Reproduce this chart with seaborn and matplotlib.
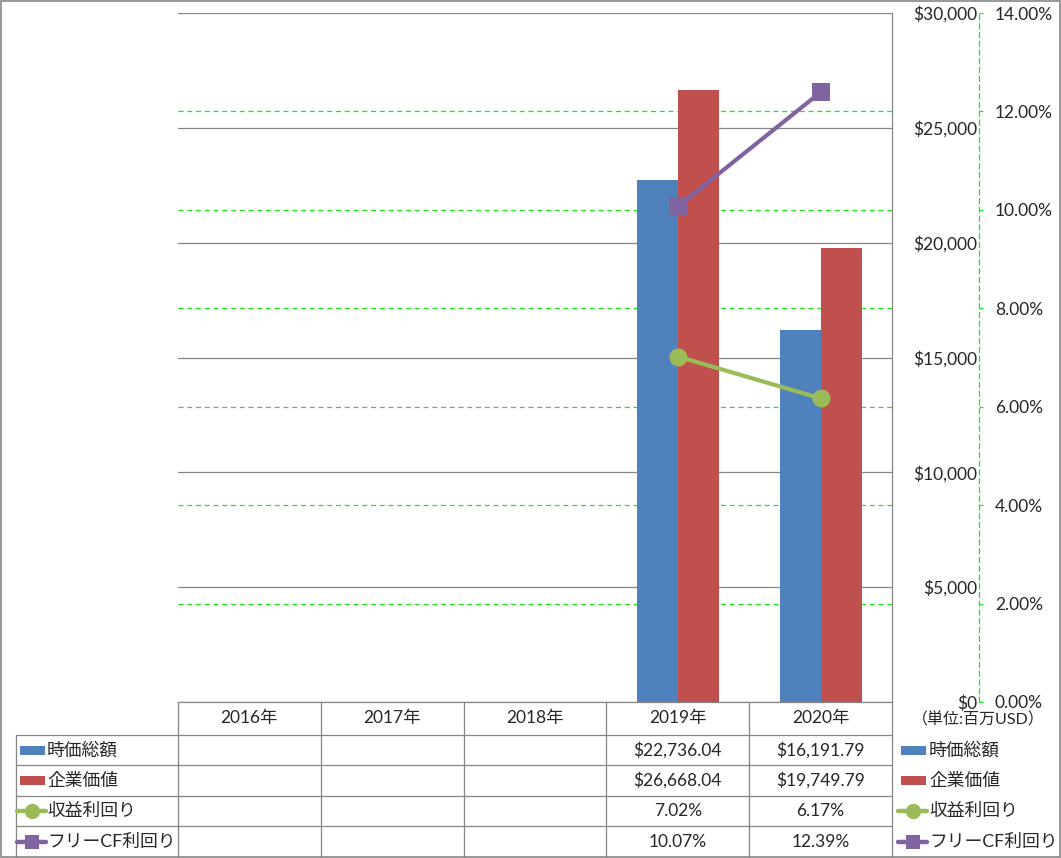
import matplotlib
matplotlib.use("Agg")
import matplotlib.pyplot as plt
import matplotlib.transforms as mtrans
from matplotlib.lines import Line2D
from matplotlib.patches import Rectangle
import seaborn as sns
import pandas as pd
import numpy as np

# ---------------- data ----------------
years = ["2016年", "2017年", "2018年", "2019年", "2020年"]
data_years = ["2019年", "2020年"]
market_cap = [22736.04, 16191.79]      # 時価総額 (百万USD)
enterprise_value = [26668.04, 19749.79]  # 企業価値 (百万USD)
earnings_yield = [7.02, 6.17]          # 収益利回り (%)
fcf_yield = [10.07, 12.39]             # フリーCF利回り (%)
series_names = ["時価総額", "企業価値", "収益利回り", "フリーCF利回り"]
left_ticks = [0, 5000, 10000, 15000, 20000, 25000, 30000]
right_ticks = [0, 2, 4, 6, 8, 10, 12, 14]
unit_label = "（単位:百万USD）"

BLUE, RED, GREEN, PURPLE = "#4F81BD", "#C0504D", "#9BBB59", "#8064A2"
GRID_GREEN = "#1EE61E"
GRAY = "#868686"

sns.set_style("white")
plt.rcParams["font.family"] = ["Lato", "Noto Sans CJK JP", "DejaVu Sans"]

W, H = 1061, 858
fig = plt.figure(figsize=(W / 100, H / 100), dpi=100)


def fx(x):
    return x / W


def fy(y):
    return 1 - y / H


PL, PR, PT, PB = 178, 892, 13, 702
ax = fig.add_axes([fx(PL), fy(PB), (PR - PL) / W, (PB - PT) / H])

bar_df = pd.DataFrame({
    "year": data_years * 2,
    "value": market_cap + enterprise_value,
    "series": [series_names[0]] * 2 + [series_names[1]] * 2,
})
sns.barplot(data=bar_df, x="year", y="value", hue="series", order=years,
            hue_order=series_names[:2], palette=[BLUE, RED], width=0.575,
            errorbar=None, saturation=1, ax=ax, legend=False, zorder=2,
            linewidth=0, edgecolor="none")
ax.set_xlim(-0.5, 4.5)
ax.set_ylim(0, 30000)
ax.set_xlabel("")
ax.set_ylabel("")
ax.set_xticks([])

# primary gridlines
ax.yaxis.grid(True, color=GRAY, linewidth=0.9, linestyle="-", zorder=0)
ax.set_axisbelow(True)
for s in ["top", "left"]:
    ax.spines[s].set_visible(False)
for s in ["right", "bottom"]:
    ax.spines[s].set_color(GRAY)
    ax.spines[s].set_linewidth(0.9)

# secondary axis
ax2 = ax.twinx()
ax2.set_ylim(0, 14)
ax2.set_xlim(-0.5, 4.5)
xpos = [years.index(y) for y in data_years]
sns.lineplot(x=xpos, y=earnings_yield, ax=ax2, color=GREEN, linewidth=3,
             marker="o", markersize=13, markeredgewidth=0, legend=False)
sns.lineplot(x=xpos, y=fcf_yield, ax=ax2, color=PURPLE, linewidth=3,
             marker="s", markersize=12.5, markeredgewidth=0, legend=False)
ax2.set_xlim(-0.5, 4.5)
ax2.set_ylabel("")
ax2.grid(False)
for s in ["top", "left", "bottom"]:
    ax2.spines[s].set_visible(False)
ax2.spines["right"].set_position(("axes", (979 - PL) / (PR - PL)))
ax2.spines["right"].set_color(GRID_GREEN)
ax2.spines["right"].set_linestyle((0, (4, 3)))
ax2.spines["right"].set_linewidth(0.9)
ax2.set_yticks(right_ticks, labels=[f"{t:.2f}%" for t in right_ticks])
ax2.tick_params(axis="y", direction="out", length=3, width=0.9,
                color=GRID_GREEN, pad=8.5, labelsize=12.5)

# primary tick labels, shown on the right, right-aligned before the 2nd axis
ax.yaxis.tick_right()
ax.set_yticks(left_ticks, labels=[f"${t:,.0f}" for t in left_ticks])
ax.tick_params(axis="y", length=0, pad=61.5, labelright=True, labelleft=False,
               labelsize=12.5)
for lbl in ax.get_yticklabels():
    lbl.set_horizontalalignment("right")

# secondary gridlines (behind the bars)
blend = mtrans.blended_transform_factory(ax.transAxes, ax2.transData)
for t in right_ticks[1:-1]:
    ax.add_line(Line2D([0, 1], [t, t], transform=blend, color=GRID_GREEN,
                       linewidth=0.9, linestyle=(0, (4, 3)), zorder=0.5))

# ---------------- data table ----------------
colx = mtrans.blended_transform_factory(ax.transData, fig.transFigure)
row_edges = [702, 735, 765, 796, 826, 858]
LBL_L = 16


def hline(x0, x1, y):
    fig.add_artist(Line2D([fx(x0), fx(x1)], [fy(y), fy(y)],
                          transform=fig.transFigure, color=GRAY, linewidth=0.9))


for y in row_edges[1:-1]:
    hline(LBL_L, PR, y)
for i in range(len(years) + 1):
    fig.add_artist(Line2D([i - 0.5, i - 0.5], [fy(702), fy(858)],
                          transform=colx, color=GRAY, linewidth=0.9))
fig.add_artist(Line2D([fx(LBL_L), fx(LBL_L)], [fy(735), fy(858)],
                      transform=fig.transFigure, color=GRAY, linewidth=0.9))

for i, yr in enumerate(years):
    fig.text(i, fy((row_edges[0] + row_edges[1]) / 2), yr, transform=colx,
             ha="center", va="center", fontsize=12.5)

table_values = [
    [f"${v:,.2f}" for v in market_cap],
    [f"${v:,.2f}" for v in enterprise_value],
    [f"{v:.2f}%" for v in earnings_yield],
    [f"{v:.2f}%" for v in fcf_yield],
]
colors = [BLUE, RED, GREEN, PURPLE]
kinds = ["bar", "bar", "o", "s"]


def legend_key(x0, yc, color, kind):
    if kind == "bar":
        fig.add_artist(Rectangle((fx(x0 + 3), fy(yc + 4.5)), 25 / W, 9 / H,
                                 transform=fig.transFigure, color=color,
                                 linewidth=0))
    else:
        fig.add_artist(Line2D([fx(x0), fx(x0 + 29)], [fy(yc), fy(yc)],
                              transform=fig.transFigure, color=color,
                              linewidth=3.2, solid_capstyle="round"))
        fig.add_artist(Line2D([fx(x0 + 14.5)], [fy(yc)],
                              transform=fig.transFigure, color=color,
                              marker=kind, markersize=11 if kind == "o" else 10.5,
                              markeredgewidth=0, linestyle="none"))


for r in range(4):
    yc = (row_edges[r + 1] + row_edges[r + 2]) / 2
    legend_key(17, yc, colors[r], kinds[r])
    fig.text(fx(47), fy(yc), series_names[r], ha="left", va="center",
             fontsize=12.8)
    for j, yr in enumerate(data_years):
        fig.text(years.index(yr), fy(yc), table_values[r][j], transform=colx,
                 ha="center", va="center", fontsize=12.5)
    legend_key(898, yc, colors[r], kinds[r])
    fig.text(fx(929), fy(yc), series_names[r], ha="left", va="center",
             fontsize=12.8)

fig.text(fx(978), fy(720), unit_label, ha="center", va="center", fontsize=11.5)

# outer frame
fig.add_artist(Rectangle((0.0006, 0.0008), 0.9988, 0.9984,
                         transform=fig.transFigure, fill=False,
                         edgecolor=GRAY, linewidth=1.2))

fig.savefig("out.png", dpi=100)
